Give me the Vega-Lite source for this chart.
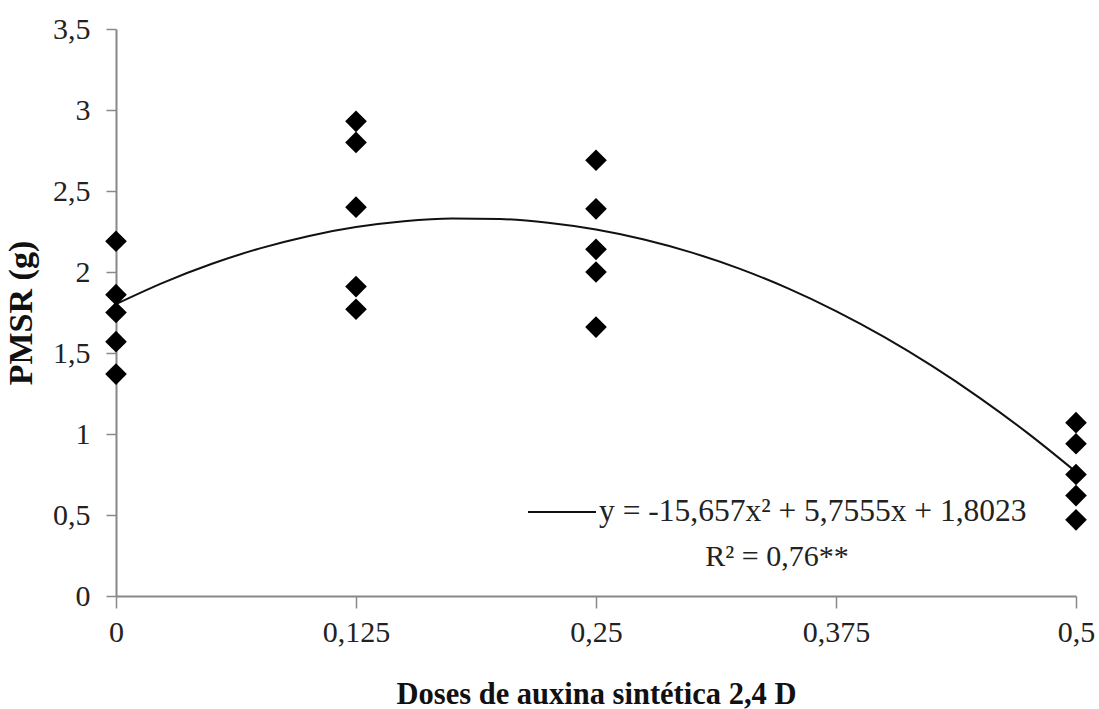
{
  "$schema": "https://vega.github.io/schema/vega-lite/v6.json",
  "width": 960,
  "height": 567,
  "autosize": {"type": "none"},
  "padding": {"left": 116, "top": 29, "right": 23, "bottom": 113},
  "background": "white",
  "config": {
    "view": {"stroke": null},
    "font": "Liberation Serif"
  },
  "datasets": {
    "obs": [
      {"dose": 0, "pmsr": 2.19}, {"dose": 0, "pmsr": 1.86}, {"dose": 0, "pmsr": 1.75}, {"dose": 0, "pmsr": 1.57}, {"dose": 0, "pmsr": 1.37},
      {"dose": 0.125, "pmsr": 2.93}, {"dose": 0.125, "pmsr": 2.8}, {"dose": 0.125, "pmsr": 2.4}, {"dose": 0.125, "pmsr": 1.91}, {"dose": 0.125, "pmsr": 1.77},
      {"dose": 0.25, "pmsr": 2.69}, {"dose": 0.25, "pmsr": 2.39}, {"dose": 0.25, "pmsr": 2.14}, {"dose": 0.25, "pmsr": 2.0}, {"dose": 0.25, "pmsr": 1.66},
      {"dose": 0.5, "pmsr": 1.07}, {"dose": 0.5, "pmsr": 0.94}, {"dose": 0.5, "pmsr": 0.75}, {"dose": 0.5, "pmsr": 0.62}, {"dose": 0.5, "pmsr": 0.47}
    ],
    "fit": [
      {"dose": 0, "pmsr": 1.8023, "serie": "y = -15,657x² + 5,7555x + 1,8023"},
      {"dose": 0.025, "pmsr": 1.9364, "serie": "y = -15,657x² + 5,7555x + 1,8023"},
      {"dose": 0.05, "pmsr": 2.0509, "serie": "y = -15,657x² + 5,7555x + 1,8023"},
      {"dose": 0.075, "pmsr": 2.1459, "serie": "y = -15,657x² + 5,7555x + 1,8023"},
      {"dose": 0.1, "pmsr": 2.2213, "serie": "y = -15,657x² + 5,7555x + 1,8023"},
      {"dose": 0.125, "pmsr": 2.2771, "serie": "y = -15,657x² + 5,7555x + 1,8023"},
      {"dose": 0.15, "pmsr": 2.3133, "serie": "y = -15,657x² + 5,7555x + 1,8023"},
      {"dose": 0.175, "pmsr": 2.33, "serie": "y = -15,657x² + 5,7555x + 1,8023"},
      {"dose": 0.2, "pmsr": 2.3271, "serie": "y = -15,657x² + 5,7555x + 1,8023"},
      {"dose": 0.225, "pmsr": 2.3047, "serie": "y = -15,657x² + 5,7555x + 1,8023"},
      {"dose": 0.25, "pmsr": 2.2626, "serie": "y = -15,657x² + 5,7555x + 1,8023"},
      {"dose": 0.275, "pmsr": 2.201, "serie": "y = -15,657x² + 5,7555x + 1,8023"},
      {"dose": 0.3, "pmsr": 2.1198, "serie": "y = -15,657x² + 5,7555x + 1,8023"},
      {"dose": 0.325, "pmsr": 2.0191, "serie": "y = -15,657x² + 5,7555x + 1,8023"},
      {"dose": 0.35, "pmsr": 1.8987, "serie": "y = -15,657x² + 5,7555x + 1,8023"},
      {"dose": 0.375, "pmsr": 1.7588, "serie": "y = -15,657x² + 5,7555x + 1,8023"},
      {"dose": 0.4, "pmsr": 1.5994, "serie": "y = -15,657x² + 5,7555x + 1,8023"},
      {"dose": 0.425, "pmsr": 1.4203, "serie": "y = -15,657x² + 5,7555x + 1,8023"},
      {"dose": 0.45, "pmsr": 1.2217, "serie": "y = -15,657x² + 5,7555x + 1,8023"},
      {"dose": 0.475, "pmsr": 1.0036, "serie": "y = -15,657x² + 5,7555x + 1,8023"},
      {"dose": 0.5, "pmsr": 0.7658, "serie": "y = -15,657x² + 5,7555x + 1,8023"}
    ]
  },
  "encoding": {
    "x": {
      "field": "dose", "type": "quantitative",
      "scale": {"domain": [0, 0.5], "nice": false, "zero": false},
      "axis": {
        "title": "Doses de auxina sintética 2,4 D",
        "values": [0, 0.125, 0.25, 0.375, 0.5],
        "labelExpr": "replace(toString(datum.value), '.', ',')",
        "grid": false,
        "domainColor": "#888888", "domainWidth": 2,
        "tickColor": "#888888", "tickSize": 12, "tickWidth": 1.5,
        "labelFont": "Liberation Serif", "labelFontSize": 30, "labelColor": "#222222",
        "labelPadding": 9, "labelFlush": false,
        "titleFont": "Liberation Serif", "titleFontSize": 30.5, "titleFontWeight": "bold", "titleColor": "#111111",
        "titlePadding": 32
      }
    },
    "y": {
      "field": "pmsr", "type": "quantitative",
      "scale": {"domain": [0, 3.5], "nice": false},
      "axis": {
        "title": "PMSR (g)",
        "values": [0, 0.5, 1, 1.5, 2, 2.5, 3, 3.5],
        "labelExpr": "replace(toString(datum.value), '.', ',')",
        "grid": false,
        "domainColor": "#888888", "domainWidth": 2,
        "tickColor": "#888888", "tickSize": 10, "tickWidth": 1.5,
        "labelFont": "Liberation Serif", "labelFontSize": 30, "labelColor": "#222222",
        "labelPadding": 16, "labelFlush": false,
        "titleFont": "Liberation Serif", "titleFontSize": 34, "titleFontWeight": "bold", "titleColor": "#111111",
        "titlePadding": 14
      }
    }
  },
  "layer": [
    {
      "data": {"name": "fit"},
      "mark": {"type": "line", "strokeWidth": 2, "interpolate": "monotone"},
      "encoding": {
        "color": {
          "field": "serie", "type": "nominal",
          "scale": {"range": ["#111111"]},
          "legend": {
            "orient": "none",
            "legendX": 411,
            "legendY": 448,
            "symbolType": "stroke",
            "symbolSize": 4624,
            "symbolStrokeWidth": 2,
            "symbolStrokeColor": "#111111",
            "labelFont": "Liberation Serif",
            "labelFontSize": 31.5,
            "labelColor": "#222222",
            "labelOffset": 2,
            "labelLimit": 650,
            "title": "R² = 0,76**",
            "titleOrient": "bottom",
            "titleAnchor": "middle",
            "titleFont": "Liberation Serif",
            "titleFontSize": 30,
            "titleFontWeight": "normal",
            "titleColor": "#222222",
            "titlePadding": 14
          }
        }
      }
    },
    {
      "data": {"name": "obs"},
      "mark": {"type": "point", "shape": "diamond", "filled": true, "size": 470, "color": "#000000", "opacity": 1}
    }
  ]
}
